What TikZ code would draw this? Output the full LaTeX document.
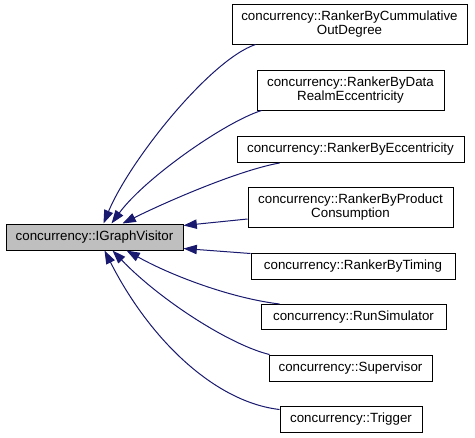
\documentclass[tikz,border=0pt]{standalone}
\usepackage{fontspec}
\setmainfont{Liberation Sans}
\usetikzlibrary{arrows.meta,calc}
\definecolor{edgeblue}{HTML}{191970}
\definecolor{basegray}{HTML}{BFBFBF}
\begin{document}
\begin{tikzpicture}[x=0.75pt,y=-0.75pt,
  box/.style={draw=black,line width=0.75pt,fill=white,inner sep=0pt,align=center,
    font=\fontsize{10}{10.5}\selectfont},
  edge/.style={draw=edgeblue,line width=0.75pt,
    -{Triangle[length=10pt,width=7pt]}}]
\useasboundingbox[fill=white] (0,0) rectangle (475,437);
\node[box,fill=basegray,minimum width=177*0.75pt,minimum height=26*0.75pt] (base) at (94.5,237) {concurrency::IGraphVisitor};
\node[box,minimum width=235*0.75pt,minimum height=40*0.75pt] (c1) at (349.5,24) {concurrency::RankerByCummulative\\OutDegree};
\node[box,minimum width=187*0.75pt,minimum height=40*0.75pt] (c2) at (350.5,90) {concurrency::RankerByData\\RealmEccentricity};
\node[box,minimum width=227*0.75pt,minimum height=26*0.75pt] (c3) at (350.5,149.5) {concurrency::RankerByEccentricity};
\node[box,minimum width=205*0.75pt,minimum height=40*0.75pt] (c4) at (350.5,207.5) {concurrency::RankerByProduct\\Consumption};
\node[box,minimum width=204*0.75pt,minimum height=26*0.75pt] (c5) at (353,266) {concurrency::RankerByTiming};
\node[box,minimum width=185*0.75pt,minimum height=25*0.75pt] (c6) at (353.5,317) {concurrency::RunSimulator};
\node[box,minimum width=163*0.75pt,minimum height=26*0.75pt] (c7) at (350.5,368) {concurrency::Supervisor};
\node[box,minimum width=142*0.75pt,minimum height=26*0.75pt] (c8) at (351,419) {concurrency::Trigger};
\draw[edge] ($(c1.south west)+(24,0)$) .. controls (210,60) and (130,160) .. ($(base.north west)+(98,0)$);
\draw[edge] ($(c2.south west)+(5,0)$) .. controls (225,122) and (145,178) .. ($(base.north west)+(106,0)$);
\draw[edge] ($(c3.south west)+(43,0)$) .. controls (240,170) and (170,200) .. ($(base.north west)+(117,0)$);
\draw[edge] ($(c4.south west)+(0,-9)$) -- ($(base.north east)+(0,2)$);
\draw[edge] ($(c5.north west)+(0,1)$) -- ($(base.south east)+(0,-2)$);
\draw[edge] ($(c6.north west)+(19,0)$) .. controls (230,298) and (170,275) .. ($(base.south west)+(121,0)$);
\draw[edge] ($(c7.north west)+(1,0)$) .. controls (230,345) and (160,300) .. ($(base.south west)+(107,0)$);
\draw[edge] ($(c8.north west)+(0,4)$) .. controls (215,402) and (150,340) .. ($(base.south west)+(99,0)$);
\end{tikzpicture}
\end{document}
